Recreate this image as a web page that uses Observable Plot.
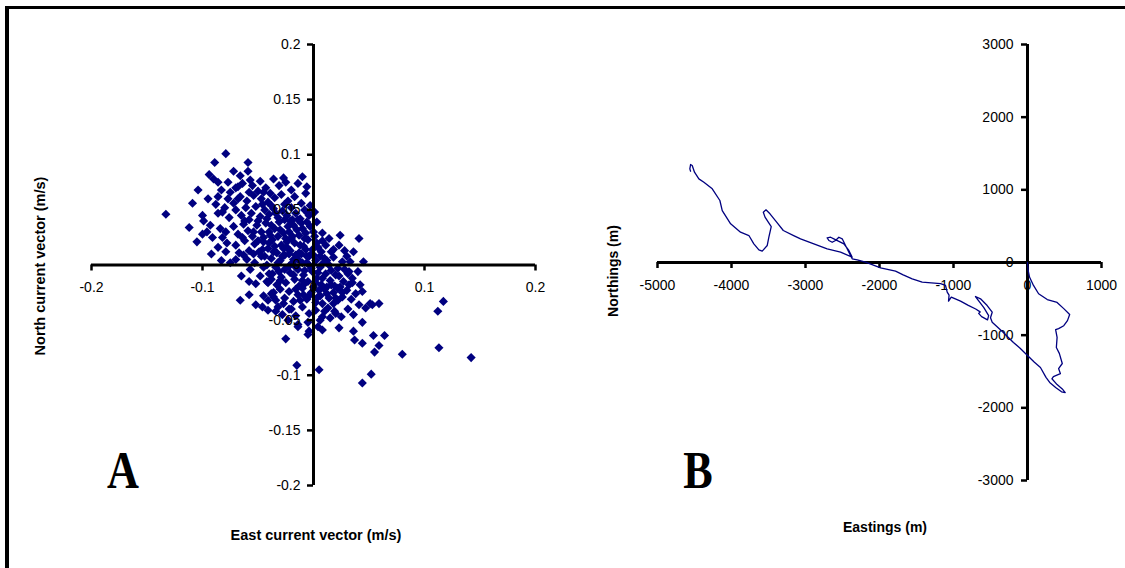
<!DOCTYPE html>
<html><head><meta charset="utf-8">
<script src="https://cdn.jsdelivr.net/npm/d3@7"></script>
<script src="https://cdn.jsdelivr.net/npm/@observablehq/plot@0.6"></script>
<style>
html,body{margin:0;padding:0;background:#fff;}
#wrap{position:relative;width:1125px;height:568px;overflow:hidden;background:#fff;}
#frameTop{position:absolute;left:5px;top:6px;width:1120px;height:3px;background:#000;}
#frameLeft{position:absolute;left:5px;top:6px;width:4px;height:562px;background:#000;}
.panel{position:absolute;top:0;height:568px;}
#panelA{left:0;width:560px;}
#panelB{left:560px;width:565px;}
#overlay{position:absolute;left:0;top:0;}
svg{overflow:visible;}
</style></head><body>
<div id="wrap">
  <div id="panelA" class="panel"></div>
  <div id="panelB" class="panel"></div>
  <div id="frameTop"></div>
  <div id="frameLeft"></div>
  <svg id="overlay" width="1125" height="568" font-family="'Liberation Sans', Arial, sans-serif">
    <text transform="translate(45,266) rotate(-90)" text-anchor="middle" font-size="14.5" font-weight="bold">North current vector (m/s)</text>
    <text x="316" y="540" text-anchor="middle" font-size="14.5" font-weight="bold">East current vector (m/s)</text>
    <text transform="translate(618,271) rotate(-90)" text-anchor="middle" font-size="14" font-weight="bold">Northings (m)</text>
    <text x="885" y="532" text-anchor="middle" font-size="14" font-weight="bold">Eastings (m)</text>
    <text transform="translate(123,488) scale(0.85,1)" text-anchor="middle" font-family="'Liberation Serif', 'Times New Roman', serif" font-size="52" font-weight="bold">A</text>
    <text transform="translate(698,488) scale(0.85,1)" text-anchor="middle" font-family="'Liberation Serif', 'Times New Roman', serif" font-size="52" font-weight="bold">B</text>
  </svg>
</div>
<script>
// ---------- Panel A: current vectors (m/s) ----------
const eastVector = [
 -0.079,-0.089,-0.059,-0.094,-0.072,-0.066,-0.059,-0.057,-0.090,-0.086,
 -0.077,-0.068,-0.104,-0.083,-0.086,-0.077,-0.109,-0.133,-0.099,-0.093,
 -0.086,-0.105,-0.091,-0.086,-0.075,-0.036,-0.025,-0.010,-0.039,-0.095,
 -0.066,-0.052,-0.046,-0.041,-0.041,-0.025,-0.014,-0.005,-0.015,0.005,
 0.008,0.023,0.036,0.037,0.044,0.044,0.041,0.047,0.053,0.059,
 0.054,0.064,0.059,0.055,0.080,0.052,0.044,0.117,0.112,0.113,
 0.142,0.022,0.024,0.041,0.023,0.036,0.008,-0.005,0.033,0.045,
 0.040,0.051,-0.063,-0.036,0.032,0.042,0.035,0.026,0.018,0.020,
 0.015,0.006,0.004,-0.005,-0.014,-0.004,-0.023,-0.032,-0.027,-0.036,
 -0.041,-0.040,-0.045,-0.032,-0.100,-0.088,-0.096,-0.082,-0.079,-0.070,
 -0.100,-0.065,-0.058,-0.058,-0.070,-0.075,-0.112,-0.092,-0.083,-0.064,
 -0.055,-0.048,-0.043,-0.031,-0.020,-0.014,-0.006,-0.050,-0.027,-0.066,
 -0.060,-0.054,-0.047,-0.041,-0.035,-0.029,-0.023,-0.017,-0.011,-0.007,
 -0.045,-0.038,-0.058,-0.026,-0.072,-0.080,-0.070,-0.065,-0.061,-0.056,
 -0.052,-0.048,-0.044,-0.040,-0.036,-0.032,-0.028,-0.024,-0.020,-0.016,
 -0.012,-0.008,-0.004,-0.003,-0.076,-0.082,-0.058,-0.019,0.001,-0.079,
 -0.072,-0.068,-0.063,-0.059,-0.055,-0.051,-0.047,-0.043,-0.039,-0.035,
 -0.031,-0.027,-0.023,-0.019,-0.015,-0.011,-0.007,-0.003,0.001,0.003,
 -0.084,-0.064,-0.045,-0.021,-0.070,-0.062,-0.058,-0.053,-0.049,-0.045,
 -0.041,-0.037,-0.033,-0.029,-0.025,-0.021,-0.017,-0.013,-0.009,-0.005,
 -0.001,0.003,0.007,0.011,0.014,-0.067,-0.078,0.018,-0.035,-0.060,
 -0.053,-0.047,-0.042,-0.038,-0.034,-0.030,-0.026,-0.022,-0.018,-0.014,
 -0.010,-0.006,-0.002,0.002,0.006,0.010,0.014,0.018,0.022,0.026,
 -0.057,0.030,-0.008,-0.048,-0.042,-0.037,-0.033,-0.029,-0.025,-0.021,
 -0.017,-0.013,-0.009,-0.005,-0.001,0.003,0.007,0.011,0.015,0.019,
 0.023,0.027,0.031,0.035,-0.052,0.012,-0.038,-0.030,-0.026,-0.022,
 -0.018,-0.014,-0.010,-0.006,-0.002,0.002,0.006,0.010,0.014,0.018,
 0.022,0.026,0.030,0.034,0.038,-0.045,0.044,0.008,-0.022,-0.016,
 -0.010,-0.004,0.002,0.008,0.013,0.019,0.025,0.031,0.036,-0.028,
 -0.034,-0.019,-0.011,-0.004,0.004,-0.016,-0.007,0.000,0.008,-0.027,
 -0.031,-0.013,0.005,0.016,-0.024,-0.040,-0.044,-0.050,-0.054,-0.009,
 -0.042,-0.038,-0.034,-0.030,-0.026,-0.022,-0.018,-0.014,-0.010,-0.006,
 -0.040,-0.036,-0.032,-0.028,-0.024,-0.020,-0.016,-0.012,-0.008,-0.004,
 -0.030,-0.026,-0.022,-0.018,-0.014,-0.010,-0.006,-0.002,0.002,0.006,
 -0.016,-0.012,-0.008,-0.004,0.000,0.004,0.008,0.012,0.016,0.020,
 0.000,0.004,0.008,0.012,0.016,0.020,0.024,0.028,0.032,0.028,
 -0.046,-0.050,-0.054,-0.046,-0.038,-0.034,-0.020,0.010,-0.062,-0.068
];
const northVector = [
 0.101,0.093,0.093,0.082,0.085,0.081,0.085,0.077,0.078,0.075,
 0.075,0.071,0.068,0.068,0.062,0.060,0.056,0.046,0.040,0.036,
 0.047,0.021,0.025,0.016,0.002,0.078,0.075,0.080,0.065,0.060,
 -0.032,-0.036,-0.038,-0.032,-0.041,-0.067,-0.056,-0.063,-0.091,-0.095,
 -0.059,-0.057,-0.060,-0.068,-0.071,-0.052,-0.036,-0.039,-0.036,-0.035,
 -0.064,-0.064,-0.073,-0.079,-0.081,-0.099,-0.107,-0.033,-0.042,-0.075,
 -0.084,-0.032,0.027,0.024,0.018,0.012,0.029,0.047,0.003,0.003,
 -0.006,-0.035,0.009,-0.029,-0.006,-0.018,-0.016,-0.025,-0.035,-0.044,
 -0.048,-0.050,-0.056,-0.052,-0.054,-0.060,-0.050,-0.038,-0.035,-0.025,
 -0.016,-0.008,-0.002,0.002,0.045,0.055,0.030,0.025,0.012,0.005,
 0.028,-0.010,-0.015,-0.027,0.070,0.066,0.034,0.010,0.004,0.074,
 0.072,0.076,0.070,0.072,0.068,0.074,0.071,0.067,0.079,0.062,
 0.058,0.063,0.060,0.057,0.061,0.064,0.058,0.062,0.056,0.065,
 0.066,0.054,0.066,0.055,0.056,0.052,0.050,0.045,0.052,0.047,
 0.053,0.044,0.050,0.046,0.051,0.043,0.049,0.045,0.052,0.047,
 0.042,0.050,0.045,0.054,0.043,0.048,0.041,0.041,0.048,0.030,
 0.035,0.028,0.037,0.031,0.026,0.036,0.030,0.038,0.027,0.033,
 0.039,0.029,0.035,0.026,0.032,0.038,0.029,0.035,0.026,0.039,
 0.033,0.025,0.025,0.040,0.018,0.022,0.013,0.019,0.012,0.021,
 0.015,0.023,0.011,0.018,0.024,0.013,0.020,0.011,0.017,0.023,
 0.014,0.020,0.012,0.018,0.024,0.011,0.020,0.014,0.017,0.005,
 0.002,0.008,0.000,0.006,-0.002,0.004,0.009,-0.001,0.005,-0.004,
 0.002,0.008,-0.003,0.004,-0.002,0.006,0.000,0.007,-0.003,0.003,
 -0.004,0.008,-0.005,-0.010,-0.015,-0.008,-0.018,-0.011,-0.016,-0.007,
 -0.013,-0.019,-0.009,-0.015,-0.006,-0.012,-0.018,-0.008,-0.014,-0.019,
 -0.010,-0.015,-0.008,-0.012,-0.017,-0.020,-0.026,-0.022,-0.030,-0.024,
 -0.033,-0.027,-0.021,-0.031,-0.025,-0.034,-0.028,-0.022,-0.030,-0.025,
 -0.021,-0.029,-0.023,-0.031,-0.026,-0.028,-0.024,-0.035,-0.040,-0.046,
 -0.038,-0.044,-0.041,-0.047,-0.039,-0.042,-0.047,-0.040,-0.045,-0.045,
 -0.042,0.002,0.010,0.000,-0.007,-0.002,0.014,0.009,0.001,0.015,
 -0.006,0.027,-0.023,-0.005,0.021,0.030,0.008,0.040,0.030,-0.027,
 0.042,0.036,0.047,0.032,0.041,0.030,0.036,0.041,0.033,0.039,
 0.020,0.012,0.026,0.008,0.016,0.024,0.009,0.018,0.024,0.008,
 -0.014,-0.004,0.010,-0.009,0.005,-0.014,0.002,0.010,-0.016,0.008,
 -0.022,-0.032,-0.017,-0.028,-0.020,-0.029,-0.012,-0.026,-0.018,-0.030,
 0.030,0.016,0.022,0.004,0.012,-0.009,-0.020,-0.004,-0.018,0.013,
 0.055,0.022,0.010,0.014,-0.013,-0.032,-0.040,-0.042,0.040,0.060
];
const xTicksA = [-0.2, -0.1, 0, 0.1, 0.2];
const yTicksA = [-0.2, -0.15, -0.1, -0.05, 0, 0.05, 0.1, 0.15, 0.2];

// ---------- Panel B: progressive vector (m) ----------
const eastings = [
 0,9,27,81,150,267,400,490,570,540,
 490,420,380,400,390,430,470,420,445,350,
 330,400,470,510,460,380,300,250,175,90,
 0,-100,-190,-330,-477,-500,-477,-545,-635,-703,
 -680,-590,-525,-540,-620,-660,-640,-700,-800,-905,
 -1030,-1067,-1060,-1085,-1108,-1175,-1300,-1423,-1558,-1680,
 -1783,-1986,-2100,-2189,-2301,-2369,-2414,-2459,-2504,-2549,
 -2594,-2639,-2684,-2707,-2661,-2617,-2481,-2414,-2369,-2526,
 -2707,-2887,-3067,-3160,-3300,-3390,-3480,-3534,-3570,-3547,
 -3463,-3495,-3517,-3585,-3630,-3698,-3765,-3878,-4012,-4125,
 -4157,-4260,-4373,-4441,-4500,-4531,-4553,-4563,-4553
];
const northings = [
 0,-110,-200,-316,-430,-510,-550,-635,-715,-800,
 -870,-910,-925,-1030,-1170,-1250,-1390,-1460,-1530,-1570,
 -1600,-1680,-1740,-1790,-1780,-1720,-1650,-1580,-1445,-1370,
 -1280,-1180,-1100,-960,-821,-760,-684,-592,-500,-468,
 -500,-620,-730,-790,-745,-700,-680,-640,-590,-532,
 -477,-532,-450,-408,-316,-290,-280,-271,-225,-170,
 -119,-73,-30,5,37,51,142,234,326,348,
 303,279,303,340,348,326,257,165,73,142,
 188,257,326,371,440,555,670,725,692,624,
 495,348,234,156,174,257,371,417,532,715,
 853,1014,1105,1151,1243,1335,1348,1289,1256
];
const xTicksB = [-5000, -4000, -3000, -2000, -1000, 0, 1000];
const yTicksB = [-3000, -2000, -1000, 0, 1000, 2000, 3000];

const NAVY = "#000080";
const FONT = "'Liberation Sans', Arial, sans-serif";

const pointsA = eastVector.map((e, i) => ({e, n: northVector[i]}));
const plotA = Plot.plot({
  width: 560, height: 568,
  marginLeft: 91, marginRight: 25, marginTop: 44, marginBottom: 83,
  x: {domain: [-0.2, 0.2], axis: null},
  y: {domain: [-0.2, 0.2], axis: null},
  style: {background: "transparent", fontFamily: FONT, fontSize: "14px", overflow: "visible"},
  marks: [
    Plot.dot(pointsA, {x: "e", y: "n", symbol: "diamond2", r: 4.1, fill: NAVY, stroke: "none"}),
    Plot.ruleY([0], {x1: -0.2, x2: 0.2, stroke: "#000", strokeWidth: 3}),
    Plot.ruleX([0], {y1: -0.2, y2: 0.2, stroke: "#000", strokeWidth: 3}),
    Plot.ruleX(xTicksA, {x: d => d, y1: 0, y2: 0, insetTop: 0, insetBottom: -6, stroke: "#000", strokeWidth: 2.5}),
    Plot.ruleY(yTicksA, {y: d => d, x1: 0, x2: 0, insetLeft: -6, insetRight: 0, stroke: "#000", strokeWidth: 2.5}),
    Plot.text(xTicksA, {x: d => d, y: 0, text: d => String(d), dy: 23, fill: "#000", fontSize: 14, fontFamily: FONT}),
    Plot.text(yTicksA, {x: 0, y: d => d, text: d => String(d), dx: -13, textAnchor: "end", fill: "#000", fontSize: 14, fontFamily: FONT})
  ]
});
document.getElementById("panelA").append(plotA);

const pathB = eastings.map((e, i) => ({e, n: northings[i]}));
const plotB = Plot.plot({
  width: 565, height: 568,
  marginLeft: 97, marginRight: 24, marginTop: 44, marginBottom: 88,
  x: {domain: [-5000, 1000], axis: null},
  y: {domain: [-3000, 3000], axis: null},
  style: {background: "transparent", fontFamily: FONT, fontSize: "14px", overflow: "visible"},
  marks: [
    Plot.ruleY([0], {x1: -5000, x2: 1000, stroke: "#000", strokeWidth: 3}),
    Plot.ruleX([0], {y1: -3000, y2: 3000, stroke: "#000", strokeWidth: 3}),
    Plot.ruleX(xTicksB, {x: d => d, y1: 0, y2: 0, insetTop: 0, insetBottom: -6, stroke: "#000", strokeWidth: 2.5}),
    Plot.ruleY(yTicksB, {y: d => d, x1: 0, x2: 0, insetLeft: -6, insetRight: 0, stroke: "#000", strokeWidth: 2.5}),
    Plot.text(xTicksB, {x: d => d, y: 0, text: d => String(d), dy: 23, fill: "#000", fontSize: 14, fontFamily: FONT}),
    Plot.text(yTicksB, {x: 0, y: d => d, text: d => String(d), dx: -14, textAnchor: "end", fill: "#000", fontSize: 14, fontFamily: FONT}),
    Plot.line(pathB, {x: "e", y: "n", stroke: NAVY, strokeWidth: 1.3, curve: "linear"})
  ]
});
document.getElementById("panelB").append(plotB);
</script>
</body></html>
